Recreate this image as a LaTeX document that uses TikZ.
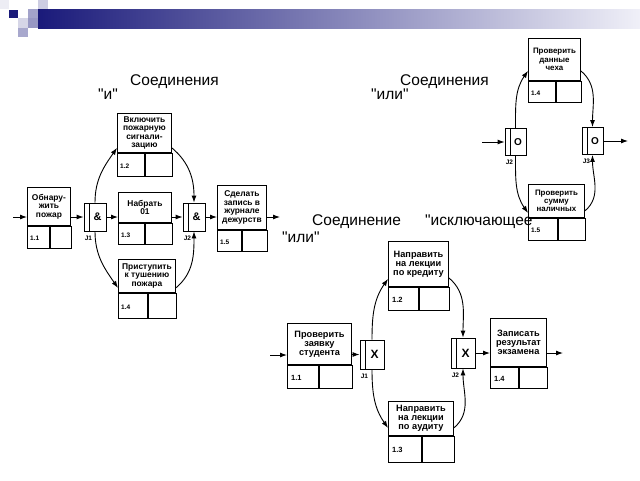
\documentclass[tikz,border=0pt]{standalone}
\usepackage{fontspec}
\setmainfont{Liberation Sans}
\usetikzlibrary{positioning, arrows, arrows.meta}

\definecolor{navy}{RGB}{26,26,122}
\definecolor{lilac}{RGB}{240,240,248}

% unit of work: name, top left, width, upper height, lower height, number cell width, text, number
\newcommand{\uow}[8]{%
  \node[box, txt, minimum width=#3pt, minimum height=#4pt, anchor=north west] (#1) at #2 {#7};
  \node[box, minimum width=#6pt, minimum height=#5pt, anchor=north west,
        label={[num]west:#8}] (#1n) at (#1.south west) {};
  \node[box, minimum width=#3pt-#6pt, minimum height=#5pt, anchor=north west] (#1e) at (#1n.north east) {};
}

\begin{document}
\begin{tikzpicture}[x=1pt, y=-1pt,
    box/.style={draw, line width=0.9pt, inner sep=0pt, align=center},
    txt/.style={font=\bfseries\fontsize{8.4}{8.6}\selectfont},
    num/.style={anchor=west, inner sep=3pt, yshift=-1pt, font=\bfseries\fontsize{6.5}{7}\selectfont},
    sym/.style={font=\bfseries\fontsize{11}{11}\selectfont},
    jlbl/.style={anchor=north west, inner sep=1pt, yshift=-3pt, font=\bfseries\fontsize{6.5}{7}\selectfont},
    junc/.style={box, sym, minimum width=22pt, minimum height=28pt,
      path picture={\draw[line width=0.9pt] ([xshift=5.5pt]path picture bounding box.north west) -- ([xshift=5.5pt]path picture bounding box.south west);},
      label={[jlbl]south west:#1}},
    flow/.style={-{Latex[length=7pt, width=5pt]}, line width=0.9pt},
    title/.style={anchor=base west, inner sep=0pt, font=\fontsize{15.5}{18}\selectfont}
  ]
  \useasboundingbox[fill=white] (0,0) rectangle (640,480);

  % header
  \shade[left color=navy, right color=lilac] (38,9) rectangle (640,28);
  \fill[navy!8] (0,0) rectangle (9,9);
  \fill[navy] (9,10) rectangle (18,18);
  \fill[navy!40] (28,9) rectangle (38,18);
  \fill[navy!22] (38,0) rectangle (48,9);
  \fill[navy!18] (18,18) rectangle (28,28);
  \fill[navy!45] (28,18) rectangle (38,28);
  \fill[navy!38] (18,28) rectangle (28,37);

  % "и"
  \node[title] (t1a) at (130,85) {Соединения};
  \node[title] (t1b) at (98,99) {\textquotedbl и\textquotedbl};
  \uow{a11}{(27,187)}{43}{38}{22}{22}{Обнару-\\жить\\пожар}{1.1}
  \uow{a12}{(117,113)}{54}{39}{23}{27}{Включить\\пожарную\\сигнали-\\зацию}{1.2}
  \uow{a13}{(118,192)}{53}{30}{21}{26}{Набрать\\01}{1.3}
  \uow{a14}{(118,259)}{57}{33}{25}{29}{Приступить\\к тушению\\пожара}{1.4}
  \uow{a15}{(217,185)}{49}{44}{21}{24}{Сделать\\запись в\\журнале\\дежурств}{1.5}
  \node[junc=J1] (aj1) at (95,217) {\kern5pt\&};
  \node[junc=J2] (aj2) at (194,217) {\kern5pt\&};
  \coordinate (ain) at (13,217);
  \coordinate (aout) at (280,217);
  \draw[flow] (ain) -- (ain -| a11.west);
  \draw[flow] (a11.east |- aj1) -- (aj1.west);
  \draw[flow] (aj1.east) -- (aj1 -| a13.west);
  \draw[flow] (aj1 -| a13.east) -- (aj2.west);
  \draw[flow] (aj2.east) -- (aj2 -| a15.west);
  \draw[flow] (aj2 -| a15.east) -- (aout);
  \draw[flow] (aj1.north) to[out=90, in=235] ([yshift=5pt]a12.south west);
  \draw[flow] (aj1.south) to[out=270, in=125] ([yshift=5pt]a14.south west);
  \draw[flow] ([yshift=5pt]a12.south east) to[out=-40, in=90] (aj2.north);
  \draw[flow] ([yshift=5pt]a14.south east) to[out=40, in=270] (aj2.south);

  % "или"
  \begin{scope}[txt/.style={font=\bfseries\fontsize{7.9}{8.3}\selectfont},
      sym/.style={font=\bfseries\fontsize{10}{10}\selectfont}]
  \node[title] (t2a) at (400,85) {Соединения};
  \node[title] (t2b) at (371,99) {\textquotedbl или\textquotedbl};
  \uow{b14}{(528,38)}{52}{42}{21}{27}{Проверить\\данные\\чеха}{1.4}
  \uow{b15}{(528,184)}{56}{33}{22}{29}{Проверить\\сумму\\наличных}{1.5}
  \node[junc=J2, minimum width=21pt, minimum height=27pt] (bj2) at (515.5,142) {\kern5pt O};
  \node[junc=J3, minimum width=21pt, minimum height=27pt] (bj3) at (592.5,141) {\kern5pt O};
  \coordinate (bin) at (482,142);
  \coordinate (bout) at (628,141);
  \draw[flow] (bin) -- (bj2.west);
  \draw[flow] (bj3.east) -- (bout);
  \draw[flow] (bj2.north) to[out=90, in=235] ([yshift=10pt]b14.south west);
  \draw[flow] (bj2.south) to[out=270, in=125] ([yshift=5pt]b15.south west);
  \draw[flow] ([yshift=10pt]b14.south east) to[out=-40, in=90] (bj3.north);
  \draw[flow] ([yshift=7pt]b15.south east) to[out=40, in=270] (bj3.south);
  \end{scope}

  % "исключающее или"
  \begin{scope}[txt/.style={font=\bfseries\fontsize{9.2}{9}\selectfont},
      sym/.style={font=\bfseries\fontsize{12}{12}\selectfont},
      num/.style={anchor=west, inner sep=4pt, yshift=-1pt, font=\bfseries\fontsize{7.5}{8}\selectfont}]
  \node[title] (t3a) at (312,225) {Соединение};
  \node[title] (t3b) at (425,225) {\textquotedbl исключающее};
  \node[title] (t3c) at (282,242) {\textquotedbl или\textquotedbl};
  \uow{c11}{(287,323)}{64}{41}{23}{31}{Проверить\\заявку\\студента}{1.1}
  \uow{c12}{(388,241)}{60}{45}{23}{30}{Направить\\на лекции\\по кредиту}{1.2}
  \uow{c13}{(388,401)}{65}{34}{26}{33}{Направить\\на лекции\\по аудиту}{1.3}
  \uow{c14}{(490,318)}{56}{48}{21}{28}{Записать\\результат\\экзамена}{1.4}
  \node[junc=J1, minimum width=24pt, minimum height=29pt] (cj1) at (372,354.5) {\kern5pt X};
  \node[junc=J2, minimum width=24pt, minimum height=30pt] (cj2) at (463,353) {\kern5pt X};
  \coordinate (cin) at (270,355);
  \coordinate (cout) at (563,353);
  \draw[flow] (cin) -- (cin -| c11.west);
  \draw[flow] (c11.east |- cj1) -- (cj1.west);
  \draw[flow] (cj2.east) -- (cj2 -| c14.west);
  \draw[flow] (cj2 -| c14.east) -- (cout);
  \draw[flow] (cj1.north) to[out=90, in=235] ([yshift=8pt]c12.south west);
  \draw[flow] (cj1.south) to[out=270, in=125] ([yshift=8pt]c13.south west);
  \draw[flow] ([yshift=9pt]c12.south east) to[out=-40, in=90] (cj2.north);
  \draw[flow] ([yshift=8pt]c13.south east) to[out=40, in=270] (cj2.south);
  \end{scope}
\end{tikzpicture}
\end{document}
